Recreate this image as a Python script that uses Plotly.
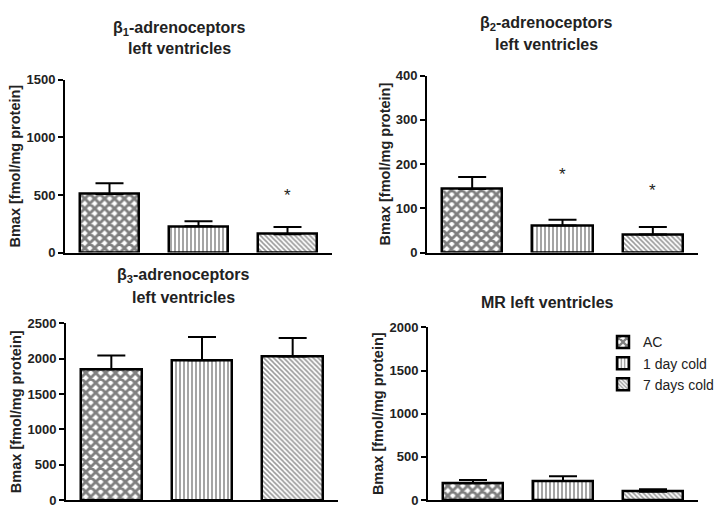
import plotly.graph_objects as go

groups = ["AC", "1 day cold", "7 days cold"]

b1_mean = [508, 228, 160]
b1_err = [93, 44, 62]
b2_mean = [144, 61, 41]
b2_err = [27, 13, 17]
b3_mean = [1855, 1978, 2033]
b3_err = [190, 330, 261]
mr_mean = [195, 221, 98]
mr_err = [38, 56, 29]

# significance stars: (panel index, group index, y value)
stars = [(0, 2, 506), (1, 1, 178), (1, 2, 142)]

panel_titles = [
    ["β<sub>1</sub>-adrenoceptors", "left ventricles"],
    ["β<sub>2</sub>-adrenoceptors", "left ventricles"],
    ["β<sub>3</sub>-adrenoceptors", "left ventricles"],
    ["MR left ventricles"],
]
y_ranges = [[0, 1500], [0, 400], [0, 2500], [0, 2000]]
y_dticks = [500, 100, 500, 500]
y_label = "Bmax [fmol/mg protein]"

W, H = 719, 512
FONT = "Liberation Sans, Arial, sans-serif"

# pixel geometry of each panel: (x_left, x_right, y_bottom, y_top)
panels_px = [(65, 332, 253, 75), (427, 698, 253, 70.7), (66, 338, 508, 326), (428, 698, 508, 330)]
title_px = [[(179, 22), (179, 43)], [(546, 17), (546, 39)], [(183, 277), (183, 299)], [(547, 304)]]

patterns = [
    dict(shape="x", size=7, solidity=0.65, fgcolor="black", bgcolor="white"),
    dict(shape="|", size=4, solidity=0.38, fgcolor="#111111", bgcolor="white"),
    dict(shape="\\", size=3.5, solidity=0.45, fgcolor="#333333", bgcolor="white"),
]

data = [(b1_mean, b1_err), (b2_mean, b2_err), (b3_mean, b3_err), (mr_mean, mr_err)]

fig = go.Figure()
xs = [0, 1, 2]
for p, (means, errs) in enumerate(data):
    sfx = "" if p == 0 else str(p + 1)
    for g in range(3):
        fig.add_trace(go.Bar(
            x=[xs[g]], y=[means[g]], width=0.67,
            name=groups[g], legendgroup=groups[g], showlegend=(p == 3),
            marker=dict(color="white", pattern=patterns[g], line=dict(color="black", width=2.5)),
            error_y=dict(type="data", array=[errs[g]], arrayminus=[0], symmetric=False,
                         color="black", thickness=2, width=14),
            xaxis="x" + sfx, yaxis="y" + sfx,
        ))

layout = dict(
    width=W, height=H, margin=dict(l=0, r=0, t=0, b=0),
    paper_bgcolor="white", plot_bgcolor="white",
    font=dict(family=FONT, color="black"),
    barmode="overlay", bargap=0,
    legend=dict(x=603 / W, y=1 - 329 / H, xanchor="left", yanchor="top",
                font=dict(family=FONT, size=14, color="#222222"),
                bgcolor="rgba(0,0,0,0)", tracegroupgap=0),
)
annotations = []
for p in range(4):
    sfx = "" if p == 0 else str(p + 1)
    xl, xr, yb, yt = panels_px[p]
    layout["xaxis" + sfx] = dict(
        domain=[xl / W, xr / W], range=[-0.5, 2.5], anchor="y" + sfx,
        showline=True, linecolor="black", linewidth=2, showticklabels=False,
        ticks="", showgrid=False, zeroline=False, fixedrange=True,
    )
    layout["yaxis" + sfx] = dict(
        domain=[1 - yb / H, 1 - yt / H], range=y_ranges[p], dtick=y_dticks[p], anchor="x" + sfx,
        showline=True, linecolor="black", linewidth=2, ticks="outside", ticklen=5, tickwidth=2,
        tickcolor="black", showgrid=False, zeroline=False,
        tickfont=dict(family=FONT, size=13, color="#222222", weight="bold"),
        title=dict(text="<b>" + y_label + "</b>", font=dict(family=FONT, size=14.5, color="#222222"), standoff=2),
    )
    for line, (tx, ty) in zip(panel_titles[p], title_px[p]):
        annotations.append(dict(
            text="<b>" + line + "</b>", x=tx / W, y=1 - ty / H, xref="paper", yref="paper",
            xanchor="center", yanchor="middle", showarrow=False,
            font=dict(family=FONT, size=16, color="#222222"),
        ))

for p, g, yv in stars:
    sfx = "" if p == 0 else str(p + 1)
    annotations.append(dict(
        text="*", x=xs[g], y=yv, xref="x" + sfx, yref="y" + sfx, showarrow=False,
        xanchor="center", yanchor="middle", yshift=-1,
        font=dict(family=FONT, size=17, color="#222222"),
    ))

layout["annotations"] = annotations
fig.update_layout(**layout)
fig.write_html(
    "out.html",
    config={"displayModeBar": False},
    post_script="document.body.style.margin='0';document.body.style.overflow='hidden';",
)
